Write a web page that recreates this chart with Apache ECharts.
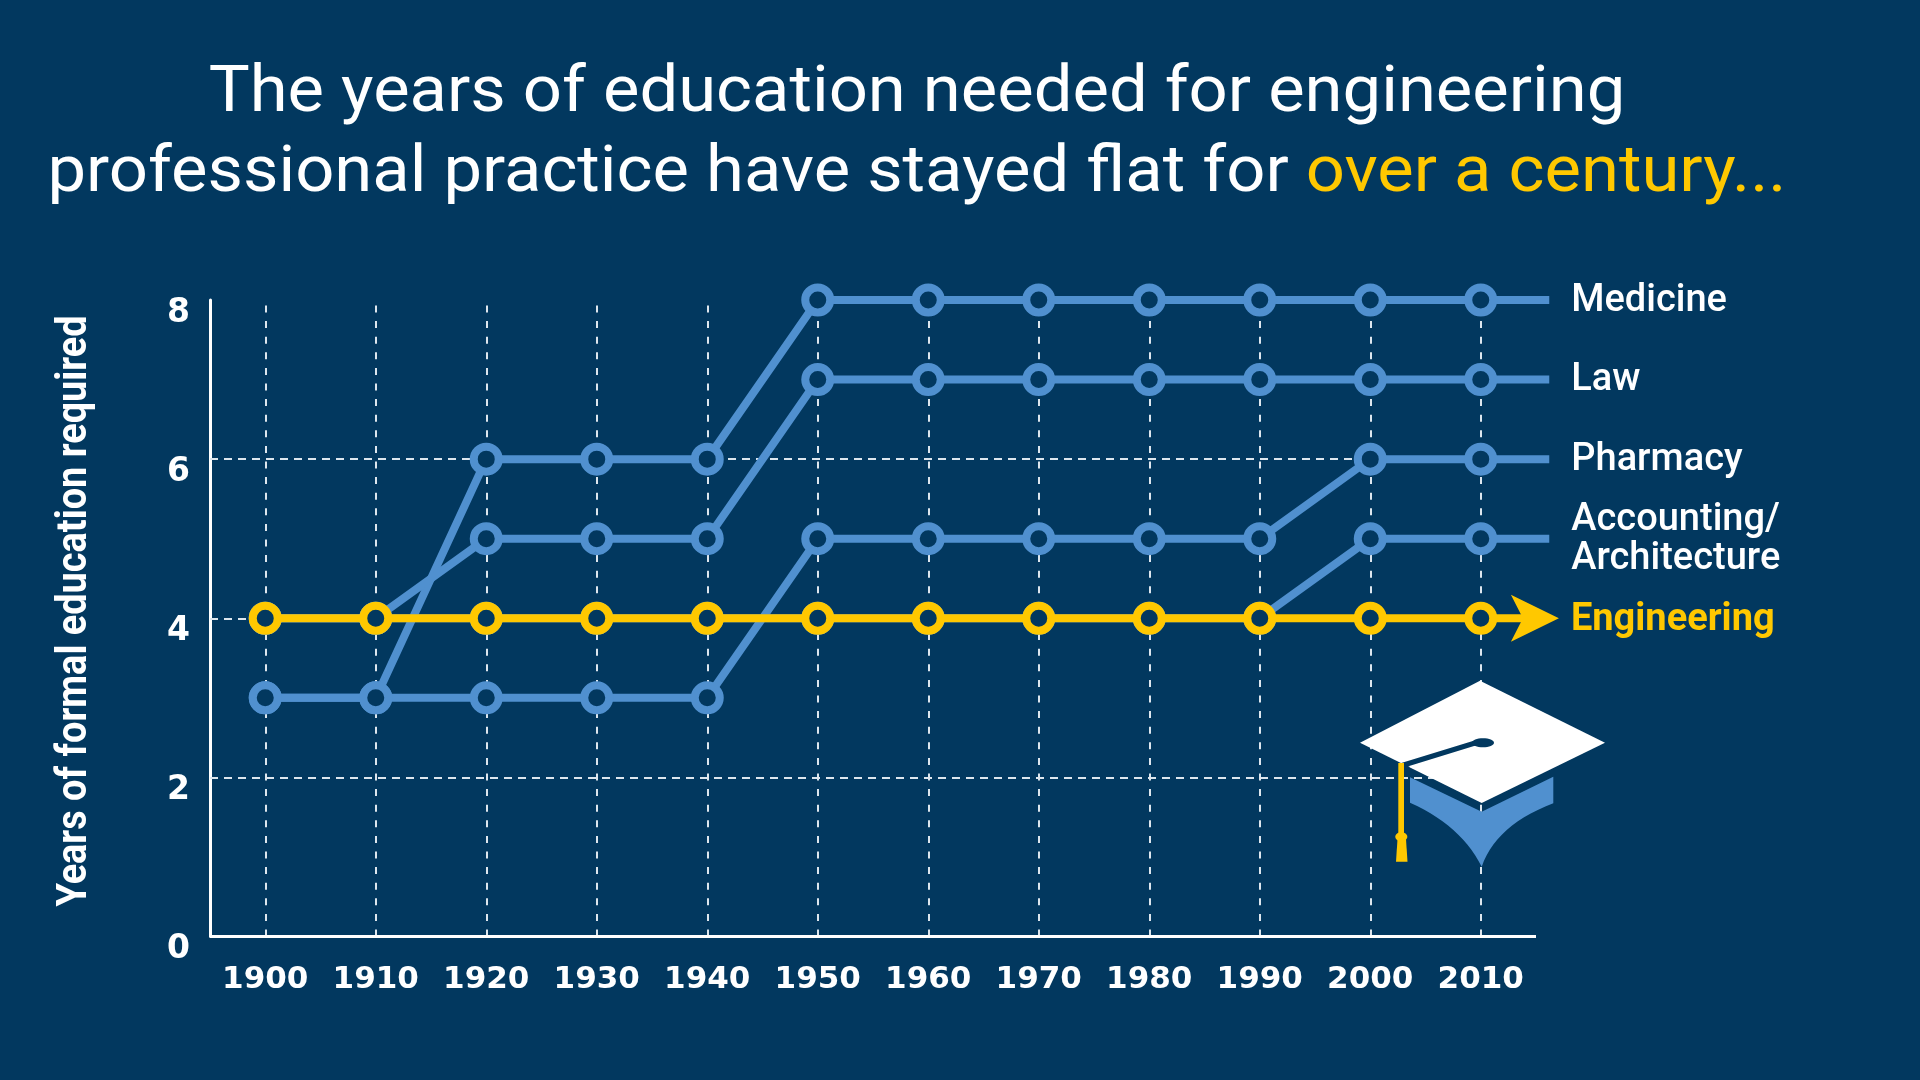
<!DOCTYPE html>
<html>
<head>
<meta charset="utf-8">
<style>html,body{margin:0;padding:0;background:#02385f}#c{width:1920px;height:1080px}</style>
<script src="https://cdn.jsdelivr.net/npm/echarts@6/dist/echarts.min.js"></script>
</head>
<body>
<div id="c"></div>
<script>
const years = [1900,1910,1920,1930,1940,1950,1960,1970,1980,1990,2000,2010];
const gridValues = [2,4,6];
const medicine = [3,3,6,6,6,8,8,8,8,8,8,8];
const law = [4,4,5,5,5,7,7,7,7,7,7,7];
const pharmacy = [3,3,3,3,3,5,5,5,5,5,6,6];
const accounting = [4,4,4,4,4,4,4,4,4,4,5,5];
const engineering = [4,4,4,4,4,4,4,4,4,4,4,4];
const blueSeries = [
  ['Medicine', medicine],
  ['Law', law],
  ['Pharmacy', pharmacy],
  ['Accounting/\nArchitecture', accounting]
];
const titleLine1 = 'The years of education needed for engineering';
const titleLine2 = 'professional practice have stayed flat for ';
const titleAccent = 'over a century...';
const yTitle = 'Years of formal education required';

const BG = '#02385f', BLUE = '#5090cf', YEL = '#ffc800', WHITE = '#ffffff', DASH = '#dde6ee';
const stubYear = 2016.2, arrowYear = 2014.9, axisStart = 1895, axisEnd = 2015;

function pts(vals, endX){
  const d = years.map((y,i)=>[y,vals[i]]);
  d.push({value:[endX, vals[vals.length-1]], symbol:'none'});
  return d;
}
function lineSeries(name, vals, color, z){
  return {
    type:'line', name, data:pts(vals, stubYear), clip:false, z,
    showAllSymbol:true, symbol:'circle', symbolSize:25,
    lineStyle:{color, width:8},
    itemStyle:{color:BG, borderColor:color, borderWidth:8},
    endLabel:{show:true, formatter:name, color:WHITE, distance:22, offset:[0,1],
      fontFamily:'Roboto', fontSize:38, fontWeight:500, lineHeight:39, align:'left'},
    emphasis:{disabled:true}, silent:true, animation:false
  };
}
const engData = pts(engineering, arrowYear);
engData[engData.length-1] = {
  value:[arrowYear, engineering[engineering.length-1]],
  symbol:'path://M0 0 L48 23.5 L0 47 L12 23.5 Z',
  symbolSize:[48,47], symbolKeepAspect:false,
  itemStyle:{color:YEL, borderWidth:0}
};
const eng = lineSeries('Engineering', engineering, YEL, 5);
eng.data = engData;
eng.endLabel = {show:true, formatter:'Engineering', color:YEL, distance:36, offset:[0,2],
  fontFamily:'Roboto', fontSize:38, fontWeight:700};

function quad(p0,c,p1,n){
  const out=[];
  for(let i=0;i<=n;i++){const t=i/n,u=1-t;
    out.push([u*u*p0[0]+2*u*t*c[0]+t*t*p1[0], u*u*p0[1]+2*u*t*c[1]+t*t*p1[1]]);}
  return out;
}
const shield = [[1410,777.3],[1481.7,811.7],[1553.3,776.7],
  ...quad([1553.3,803.3],[1496,825],[1481.7,866.7],14),
  ...quad([1481.7,866.7],[1460.8,825.3],[1410,802.7],14)];

const chart = echarts.init(document.getElementById('c'), null, {renderer:'canvas'});
chart.setOption({
  backgroundColor:BG,
  animation:false,
  grid:{left:210, right:328.75, top:300, height:636.5, containLabel:false},
  xAxis:{
    type:'value', min:1895, max:2020, interval:5,
    axisLine:{show:false},
    axisTick:{show:false},
    axisLabel:{color:WHITE, fontFamily:'DejaVu Sans', fontSize:31, fontWeight:700, margin:28,
      formatter:v=> years.includes(v) ? String(v) : ''},
    splitLine:{show:false}
  },
  yAxis:{
    type:'value', min:0, max:8, interval:2,
    axisLine:{show:true, lineStyle:{color:WHITE, width:3}},
    axisTick:{show:false},
    axisLabel:{color:WHITE, fontFamily:'DejaVu Sans', fontSize:33, fontWeight:700, margin:20,
      verticalAlign:'top', lineHeight:26},
    splitLine:{show:false}
  },
  series:[
    {type:'line', name:'grid', data:[], z:1, silent:true,
     markLine:{silent:true, z:1, symbol:'none', animation:false, label:{show:false},
       lineStyle:{color:DASH, width:2, type:[7,8.6]},
       data:[
         ...years.map(y=>({xAxis:y})),
         ...gridValues.map(v=>[{coord:[axisStart,v], lineStyle:{color:DASH, width:2, type:[8,6]}},{coord:[2010,v]}]),
         [{coord:[axisStart,0], lineStyle:{color:WHITE, width:3, type:'solid'}},{coord:[axisEnd,0]}]
       ]}},
    ...blueSeries.map(([n,v],i)=>lineSeries(n,v,BLUE,3+i*0.1)),
    eng
  ],
  graphic:[
    {type:'text', z:60, x:917, y:55, scaleX:1.074,
     style:{text:'{w|'+titleLine1+'}\n{w|'+titleLine2+'}{y|'+titleAccent+'}',
       align:'center', verticalAlign:'top',
       rich:{
         w:{fontFamily:'Roboto', fontSize:64, fontWeight:400, fill:WHITE, color:WHITE, lineHeight:80},
         y:{fontFamily:'Roboto', fontSize:64, fontWeight:400, fill:YEL, color:YEL, lineHeight:80}
       }}},
    {type:'text', z:60, x:75, y:611, rotation:Math.PI/2, scaleX:0.902,
     style:{text:yTitle, fill:WHITE, align:'center', verticalAlign:'middle',
       font:'700 42px Roboto'}},
    {type:'polygon', z:50, shape:{points:shield}, style:{fill:BLUE}},
    {type:'polygon', z:51, shape:{points:[[1480,680.7],[1605,742.7],[1481.7,803],[1360,742.7]]}, style:{fill:WHITE}},
    {type:'polyline', z:52, shape:{points:[[1402,765.5],[1473.3,743.5],[1488,742.7]]}, style:{stroke:BG, lineWidth:5, fill:null, lineCap:'round'}},
    {type:'polygon', z:52, shape:{points:[[1401,763],[1410,767],[1405,770],[1398,766]]}, style:{fill:BG}},
    {type:'ellipse', z:52, shape:{cx:1483, cy:742.7, rx:11, ry:4.5}, style:{fill:BG}},
    {type:'rect', z:53, shape:{x:1398.3, y:763, width:5.7, height:70}, style:{fill:YEL}},
    {type:'ellipse', z:53, shape:{cx:1401.3, cy:836.7, rx:6, ry:4.5}, style:{fill:YEL}},
    {type:'polygon', z:53, shape:{points:[[1397.5,839],[1406,839],[1407.5,861.7],[1396,861.7]]}, style:{fill:YEL}}
  ]
});
</script>
</body>
</html>
